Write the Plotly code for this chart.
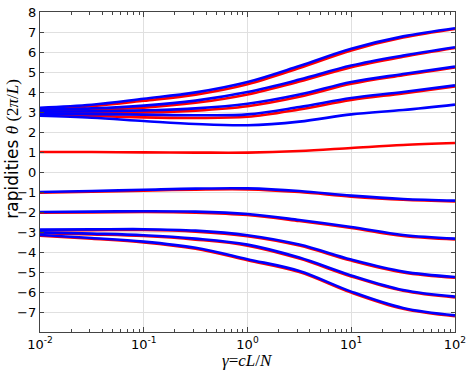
import plotly.graph_objects as go

gamma = [0.01, 0.0316, 0.1, 0.316, 1.0, 3.16, 10.0, 31.6, 100.0]

# blue set (upper 5, lower 5)
blue_U1 = [3.21, 3.36, 3.66, 3.98, 4.50, 5.30, 6.16, 6.78, 7.19]
blue_U2 = [3.11, 3.18, 3.32, 3.57, 4.00, 4.62, 5.32, 5.82, 6.24]
blue_U3 = [3.01, 3.03, 3.08, 3.18, 3.41, 3.87, 4.50, 4.90, 5.27]
blue_U4 = [2.91, 2.89, 2.87, 2.84, 2.88, 3.25, 3.70, 4.00, 4.33]
blue_U5 = [2.81, 2.71, 2.55, 2.40, 2.34, 2.52, 2.88, 3.10, 3.37]
blue_L1 = [-1.00, -0.95, -0.89, -0.83, -0.82, -0.95, -1.18, -1.35, -1.43]
blue_L2 = [-2.00, -1.98, -1.96, -1.98, -2.10, -2.40, -2.75, -3.15, -3.33]
blue_L3 = [-2.88, -2.87, -2.86, -2.93, -3.16, -3.63, -4.38, -4.98, -5.25]
blue_L4 = [-3.02, -3.08, -3.16, -3.33, -3.63, -4.28, -5.17, -5.90, -6.23]
blue_L5 = [-3.15, -3.30, -3.48, -3.79, -4.36, -4.95, -5.98, -6.80, -7.17]

# red set (upper 4, middle 1, lower 5)
red_U1 = [3.17, 3.29, 3.56, 3.87, 4.39, 5.20, 6.08, 6.72, 7.15]
red_U2 = [3.06, 3.11, 3.22, 3.46, 3.88, 4.52, 5.24, 5.76, 6.20]
red_U3 = [2.96, 2.96, 2.98, 3.07, 3.29, 3.76, 4.41, 4.84, 5.23]
red_U4 = [2.85, 2.81, 2.73, 2.70, 2.76, 3.13, 3.60, 3.93, 4.28]
red_M = [1.00, 1.00, 0.98, 0.97, 0.97, 1.05, 1.20, 1.35, 1.45]
red_L1 = [-1.03, -0.99, -0.93, -0.88, -0.87, -1.00, -1.23, -1.39, -1.47]
red_L2 = [-2.04, -2.02, -2.00, -2.03, -2.15, -2.45, -2.80, -3.20, -3.37]
red_L3 = [-2.92, -2.91, -2.90, -2.98, -3.21, -3.68, -4.43, -5.02, -5.29]
red_L4 = [-3.06, -3.12, -3.20, -3.38, -3.68, -4.33, -5.22, -5.94, -6.27]
red_L5 = [-3.19, -3.34, -3.52, -3.84, -4.41, -5.00, -6.03, -6.84, -7.21]

red_series = [red_U1, red_U2, red_U3, red_U4, red_M, red_L1, red_L2, red_L3, red_L4, red_L5]
blue_series = [blue_U1, blue_U2, blue_U3, blue_U4, blue_U5, blue_L1, blue_L2, blue_L3, blue_L4, blue_L5]

x_tickvals = [0.01, 0.1, 1, 10, 100]
x_ticktext = ["10<sup>-2</sup>", "10<sup>-1</sup>", "10<sup>0</sup>", "10<sup>1</sup>", "10<sup>2</sup>"]
x_minor_vals = [k * d for d in [0.01, 0.1, 1, 10] for k in range(2, 10)]
y_tickvals = list(range(-7, 9))
y_ticktext = ["\u2212%d" % (-v) if v < 0 else str(v) for v in y_tickvals]

fig = go.Figure()
for s in red_series:
    fig.add_trace(go.Scatter(x=gamma, y=s, mode="lines",
                             line=dict(color="#ff0000", width=2.6, shape="spline", smoothing=1.0),
                             showlegend=False, hoverinfo="skip"))
for s in blue_series:
    fig.add_trace(go.Scatter(x=gamma, y=s, mode="lines",
                             line=dict(color="#0000ff", width=2.6, shape="spline", smoothing=1.0),
                             showlegend=False, hoverinfo="skip"))

fig.update_layout(
    width=471, height=370,
    margin=dict(l=40, r=8, t=5, b=38),
    paper_bgcolor="white", plot_bgcolor="white",
    font=dict(family="DejaVu Sans", size=13, color="black"),
    xaxis=dict(
        type="log", range=[-2.0001, 2.0001],
        tickmode="array", tickvals=x_tickvals, ticktext=x_ticktext,
        ticklabeloverflow="allow",
        showgrid=True, gridcolor="#e0e0e0", gridwidth=1,
        showline=True, linecolor="#444444", linewidth=1.3, mirror="allticks",
        ticks="inside", ticklen=5, tickcolor="#444444",
        minor=dict(tickmode="array", tickvals=x_minor_vals, ticks="inside", ticklen=2.5,
                   tickcolor="#444444", showgrid=False),
        zeroline=False,
        tickfont=dict(family="DejaVu Sans", size=13),
    ),
    yaxis=dict(
        range=[-8, 8.0001],
        tickmode="array", tickvals=y_tickvals, ticktext=y_ticktext,
        ticklabeloverflow="allow",
        showgrid=True, gridcolor="#e0e0e0", gridwidth=1,
        showline=True, linecolor="#444444", linewidth=1.3, mirror="allticks",
        ticks="inside", ticklen=4, tickcolor="#444444",
        zeroline=False,
        tickfont=dict(family="DejaVu Sans", size=13),
    ),
    annotations=[
        dict(text="<i>γ</i>=<i>cL</i>/<i>N</i>", xref="paper", yref="paper",
             x=0.499, y=-0.088, xanchor="center", yanchor="middle", showarrow=False,
             font=dict(family="Liberation Serif", size=17, color="black")),
        dict(text="rapidities <span style=\"font-family:'Liberation Serif'\"><i>θ</i> (2<i>π</i>/<i>L</i>)</span>",
             xref="paper", yref="paper", x=-0.068, y=0.572, xanchor="center", yanchor="middle",
             textangle=-90, showarrow=False,
             font=dict(family="DejaVu Sans", size=17, color="black")),
    ],
)

fig.write_html("out.html", config={"displayModeBar": False},
               post_script="document.body.style.margin='0';document.body.style.overflow='hidden';")
